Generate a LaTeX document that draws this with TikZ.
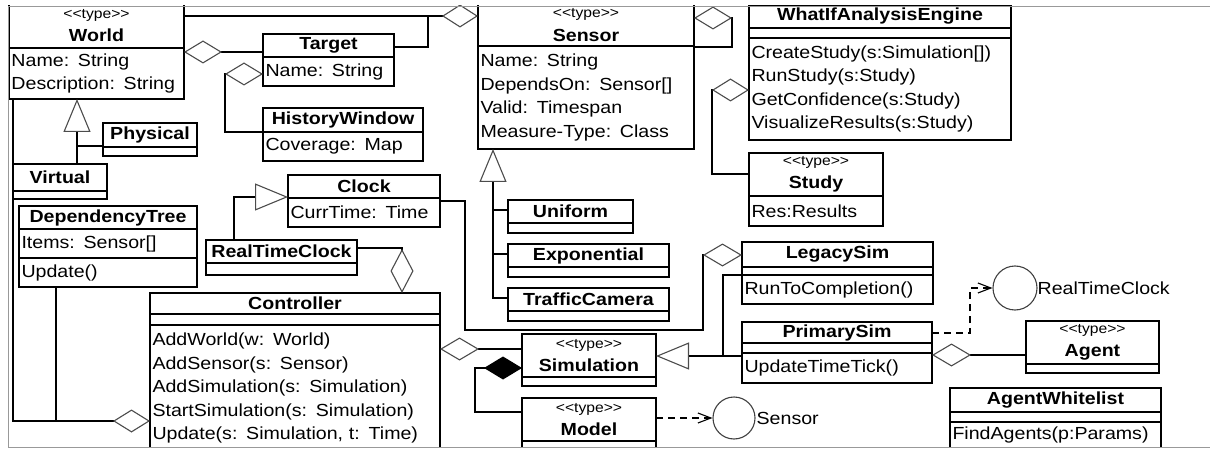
\documentclass[tikz,border=0pt]{standalone}
\usepackage{fontspec}
\setmainfont{Liberation Sans}[FakeStretch=1.12]
\usetikzlibrary{arrows.meta,positioning}

\newcommand{\typetag}{{\fontsize{14}{15}\selectfont\mdseries <{}<type>{}>}}

\begin{document}
\begin{tikzpicture}[x=1pt, y=-1pt, line width=1.5pt,
    font=\fontsize{17.5}{23.5}\selectfont,
    cls/.style={draw, rectangle, anchor=north west, inner xsep=2.5pt,
      inner ysep=0pt, outer sep=0pt},
    head/.style={cls, align=center, font=\fontsize{17.5}{23.5}\selectfont\bfseries},
    fld/.style={cls, align=left},
    iface/.style={circle, draw=black!75, line width=1.1pt, inner sep=0pt},
    aggr/.style={-{Diamond[open, length=#1, width=23pt, line width=1.1pt, color=black!70]}},
    aggr/.default=38pt,
    compo/.style={-{Diamond[length=38pt, width=23pt]}},
    gen/.style={-{Triangle[open, length=33pt, width=27pt, line width=1.1pt, color=black!70]}},
    real/.style={dash pattern=on 7pt off 5pt,
      -{Straight Barb[length=13pt, width=10pt, line width=1.1pt]}}]

  \useasboundingbox (0,0) rectangle (1210,449);

  \begin{scope}
    \clip (8,6) rectangle (1210,447);

    % World and its subtypes
    \node[head, text width=170pt, minimum height=45pt] (world) at (9,3) {\typetag\\World};
    \node[fld, text width=170pt, minimum height=51pt, below=0pt of world] (world-a) {Name: String\\Description: String};
    \node[head, text width=89pt, minimum height=24pt] (phys) at (103,123) {Physical};
    \node[fld, text width=89pt, minimum height=9pt, below=0pt of phys] (phys-e) {};
    \node[head, text width=89pt, minimum height=27pt] (virt) at (13,164) {Virtual};
    \node[fld, text width=89pt, minimum height=8pt, below=0pt of virt] (virt-e) {};

    % Target and HistoryWindow
    \node[head, text width=126pt, minimum height=23pt] (target) at (263,34) {Target};
    \node[fld, text width=126pt, minimum height=29pt, below=0pt of target] (target-a) {Name: String};
    \node[head, text width=155pt, minimum height=24pt] (hist) at (263,108) {HistoryWindow};
    \node[fld, text width=155pt, minimum height=29pt, below=0pt of hist] (hist-a) {Coverage: Map};

    % DependencyTree
    \node[head, text width=173pt, minimum height=23pt] (dtree) at (19,206) {DependencyTree};
    \node[fld, text width=173pt, minimum height=29pt, below=0pt of dtree] (dtree-a) {Items: Sensor[]};
    \node[fld, text width=173pt, minimum height=29pt, below=0pt of dtree-a] (dtree-m) {Update()};

    % clocks
    \node[head, text width=147pt, minimum height=23pt] (clock) at (288,175) {Clock};
    \node[fld, text width=147pt, minimum height=29pt, below=0pt of clock] (clock-a) {CurrTime: Time};
    \node[head, text width=146pt, minimum height=23pt] (rtc) at (206,240) {RealTimeClock};
    \node[fld, text width=146pt, minimum height=12pt, below=0pt of rtc] (rtc-e) {};

    % Controller
    \node[head, text width=285pt, minimum height=21pt] (ctrl) at (150,293) {Controller};
    \node[fld, text width=285pt, minimum height=11pt, below=0pt of ctrl] (ctrl-e) {};
    \node[fld, text width=285pt, minimum height=126pt, below=0pt of ctrl-e] (ctrl-m)
      {AddWorld(w: World)\\AddSensor(s: Sensor)\\AddSimulation(s: Simulation)\\StartSimulation(s: Simulation)\\Update(s: Simulation, t: Time)};

    % Sensor
    \node[head, text width=211pt, minimum height=42pt] (sensor) at (478,4) {\typetag\\Sensor};
    \node[fld, text width=211pt, minimum height=103pt, below=0pt of sensor] (sensor-a)
      {Name: String\\DependsOn: Sensor[]\\Valid: Timespan\\Measure-Type: Class};

    % sensor subtypes
    \foreach \n/\s/\y/\w in {uni/Uniform/200/120pt, expo/Exponential/244/156pt, traf/TrafficCamera/288/156pt} {
      \node[head, text width=\w, minimum height=23pt] (\n) at (508,\y) {\s};
      \node[fld, text width=\w, minimum height=10pt, below=0pt of \n] (\n-e) {};
      \draw (\n.west |- 0,\y+10) -- ++(-15,0);
    }

    % WhatIfAnalysisEngine and Study
    \node[head, text width=257pt, minimum height=23pt] (whatif) at (749,5) {WhatIfAnalysisEngine};
    \node[fld, text width=257pt, minimum height=10pt, below=0pt of whatif] (whatif-e) {};
    \node[fld, text width=257pt, minimum height=102pt, below=0pt of whatif-e] (whatif-m)
      {CreateStudy(s:Simulation[])\\RunStudy(s:Study)\\GetConfidence(s:Study)\\VisualizeResults(s:Study)};
    \node[head, text width=129pt, minimum height=43pt] (study) at (749,153) {\typetag\\Study};
    \node[fld, text width=129pt, minimum height=30pt, below=0pt of study] (study-a) {Res:Results};

    % simulations
    \node[head, text width=186pt, minimum height=25pt] (legacy) at (742,242) {LegacySim};
    \node[fld, text width=186pt, minimum height=8pt, below=0pt of legacy] (legacy-e) {};
    \node[fld, text width=186pt, minimum height=29pt, below=0pt of legacy-e] (legacy-m) {RunToCompletion()};
    \node[head, text width=185pt, minimum height=21pt] (prim) at (742,322) {PrimarySim};
    \node[fld, text width=185pt, minimum height=10pt, below=0pt of prim] (prim-e) {};
    \node[fld, text width=185pt, minimum height=30pt, below=0pt of prim-e] (prim-m) {UpdateTimeTick()};
    \node[head, text width=129pt, minimum height=43pt] (sim) at (522,334) {\typetag\\Simulation};
    \node[fld, text width=129pt, minimum height=9pt, below=0pt of sim] (sim-e) {};
    \node[head, text width=129pt, minimum height=43pt] (model) at (522,398) {\typetag\\Model};
    \node[fld, text width=129pt, minimum height=14pt, below=0pt of model] (model-e) {};

    % agents
    \node[head, text width=128pt, minimum height=43pt] (agent) at (1026,321) {\typetag\\Agent};
    \node[fld, text width=128pt, minimum height=9pt, below=0pt of agent] (agent-e) {};
    \node[head, text width=206pt, minimum height=24pt] (awl) at (950,388) {AgentWhitelist};
    \node[fld, text width=206pt, minimum height=10pt, below=0pt of awl] (awl-e) {};
    \node[fld, text width=206pt, minimum height=26pt, below=0pt of awl-e] (awl-m) {FindAgents(p:Params)};

    % provided interfaces
    \node[iface, minimum size=42pt, label={[label distance=-3pt]right:Sensor}] (sensor-i) at (734,418) {};
    \node[iface, minimum size=44pt, label={[label distance=-4pt]right:RealTimeClock}] (rtc-i) at (1015,288) {};

    % aggregations round World, Target and Sensor
    \draw[aggr=36pt] (world.east |- 0,16) -- (sensor.west |- 0,16);
    \draw (target.east |- 0,47) -| (428,16);
    \draw[aggr] (target.west |- 0,52) -- (world-a.east |- 0,52);
    \draw[aggr] (hist.south west) -- ++(-38,0) |- (target-a.west |- 0,74);
    \draw[aggr] (sensor.east |- 0,47) -| (732,18) -- (sensor.east |- 0,18);
    \draw[aggr=37pt] (study.west |- 0,174) -| (712,90) -- (whatif-m.west |- 0,90);

    % generalisations
    \draw[gen] (virt.north -| 77,0) -- (world-a.south -| 77,0);
    \draw (phys.west |- 0,146) -- ++(-26,0);
    \draw[gen] (traf.west |- 0,298) -| (sensor-a.south -| 493,0);
    \draw[gen] (rtc.north -| 234,0) |- (clock.west |- 0,197);
    \draw[gen] (prim-m.west |- 0,356) -- (sim.east |- 0,356);
    \draw (legacy-m.north west) -| (723,356);

    % Controller parts
    \draw[aggr=37pt] (world-a.south -| 13,0) |- (ctrl-m.west |- 0,421);
    \draw (dtree-m.south -| 56,0) -- ++(0,134);
    \draw[aggr=44pt] (rtc.east |- 0,248) -| (ctrl.north -| 402,0);
    \draw[aggr=39pt] (sim.west |- 0,349) -- (ctrl-m.east |- 0,349);

    % clock of the legacy run, model, agents
    \draw[aggr=39pt] (clock-a.east |- 0,201) -| (465,330) -| (703,255) -- (legacy.west |- 0,255);
    \draw[compo] (model.west |- 0,412) -| (475,368) -- (sim.west |- 0,368);
    \draw[aggr=39pt] (agent.west |- 0,355) -- (prim-m.east |- 0,355);

    % realisations (dashed)
    \draw[real] (model.east |- sensor-i.west) -- (sensor-i.west);
    \draw[real] (prim.east |- 0,333) -| (970,288) -- (rtc-i.west);
  \end{scope}

  % screenshot frame
  \draw[black!40, line width=0.8pt] (1212,6) -| (8,447) -- (1212,447);
\end{tikzpicture}
\end{document}
